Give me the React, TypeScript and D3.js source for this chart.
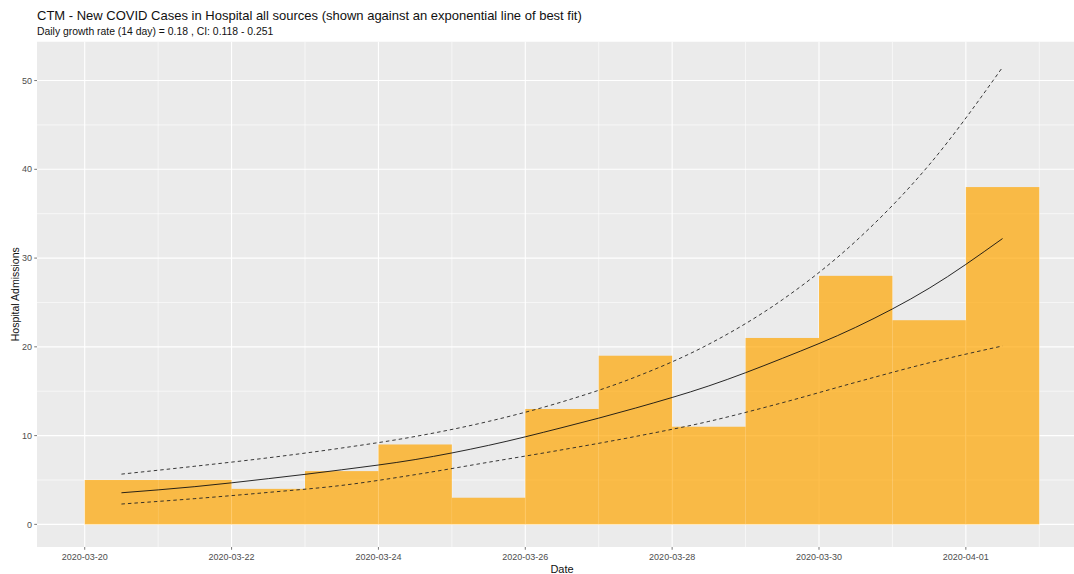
import React, { useEffect } from "react";
import * as d3 from "d3";

// Daily new hospital admissions (all sources)
const dates = [
  "2020-03-20", "2020-03-21", "2020-03-22", "2020-03-23", "2020-03-24",
  "2020-03-25", "2020-03-26", "2020-03-27", "2020-03-28", "2020-03-29",
  "2020-03-30", "2020-03-31", "2020-04-01",
];
const admissions = [5, 5, 4, 6, 9, 3, 13, 19, 11, 21, 28, 23, 38];

// Exponential fit and its confidence band, evaluated at the middle of each day
const fitCentral = [3.56, 4.25, 5.15, 6.15, 7.3, 8.9, 10.9, 13.1, 15.6, 18.7, 22.2, 26.6, 32.2];
const fitUpper = [5.66, 6.55, 7.5, 8.6, 9.9, 11.6, 13.8, 16.6, 20.3, 25.3, 31.9, 40.5, 51.5];
const fitLower = [2.29, 2.9, 3.6, 4.39, 5.6, 7.0, 8.4, 9.9, 11.6, 13.7, 16.0, 18.2, 20.1];

const xTickLabels = ["2020-03-20", "2020-03-22", "2020-03-24", "2020-03-26", "2020-03-28", "2020-03-30", "2020-04-01"];
const yTicks = [0, 10, 20, 30, 40, 50];
const yMinor = [5, 15, 25, 35, 45];

const title = "CTM - New COVID Cases in Hospital all sources (shown against an exponential line of best fit)";
const subtitle = "Daily growth rate (14 day) = 0.18 , CI: 0.118 - 0.251";

const W = 1074;
const H = 574;
const FONT = "'Liberation Sans', Arial, Helvetica, sans-serif";
const DAY = 86400000;

export default function App() {
  useEffect(() => {
    document.body.style.margin = "0";
  }, []);

  const parse = d3.utcParse("%Y-%m-%d");
  const days = dates.map((d) => parse(d) as Date);
  const first = days[0].getTime();
  const last = days[days.length - 1].getTime() + DAY;
  const pad = (last - first) * 0.05;

  const panel = { left: 37, right: 1087, top: 41.5, bottom: 547 };

  const x = d3
    .scaleUtc()
    .domain([new Date(first - pad), new Date(last + pad)])
    .range([panel.left, panel.right]);
  const y = d3.scaleLinear().domain([-2.55, 54.4]).range([panel.bottom, panel.top]);

  // major grid every 2 days, minor grid on the days between
  const allGridDays: Date[] = [];
  for (let t = first - DAY * 2; t <= last + DAY * 2; t += DAY) {
    const xv = x(new Date(t));
    if (xv >= panel.left && xv <= W) allGridDays.push(new Date(t));
  }
  const majorDays = xTickLabels.map((s) => parse(s) as Date);
  const majorSet = new Set(majorDays.map((d) => d.getTime()));
  const minorDays = allGridDays.filter((d) => !majorSet.has(d.getTime()));

  const mid = (i: number) => new Date(days[i].getTime() + DAY / 2);
  const lineGen = d3
    .line<number>()
    .x((_, i) => x(mid(i)))
    .y((v) => y(v))
    .curve(d3.curveMonotoneX);

  const fmt = d3.utcFormat("%Y-%m-%d");

  return (
    <svg
      width={W}
      height={H}
      style={{ position: "absolute", left: 0, top: 0, background: "#fff" }}
      fontFamily={FONT}
    >
      <defs>
        <clipPath id="panel-clip">
          <rect x={panel.left} y={panel.top} width={panel.right - panel.left} height={panel.bottom - panel.top} />
        </clipPath>
      </defs>

      <text x={panel.left} y={19.5} fontSize={13} fill="#111">
        {title}
      </text>
      <text x={panel.left} y={34.5} fontSize={10.4} fill="#111">
        {subtitle}
      </text>

      <g clipPath="url(#panel-clip)">
        <rect x={panel.left} y={panel.top} width={panel.right - panel.left} height={panel.bottom - panel.top} fill="#EBEBEB" />
        {yMinor.map((v) => (
          <line key={"ym" + v} x1={panel.left} x2={panel.right} y1={y(v)} y2={y(v)} stroke="#fff" strokeWidth={0.6} />
        ))}
        {minorDays.map((d) => (
          <line key={"xm" + d.getTime()} x1={x(d)} x2={x(d)} y1={panel.top} y2={panel.bottom} stroke="#fff" strokeWidth={0.6} />
        ))}
        {yTicks.map((v) => (
          <line key={"yM" + v} x1={panel.left} x2={panel.right} y1={y(v)} y2={y(v)} stroke="#fff" strokeWidth={1.1} />
        ))}
        {majorDays.map((d) => (
          <line key={"xM" + d.getTime()} x1={x(d)} x2={x(d)} y1={panel.top} y2={panel.bottom} stroke="#fff" strokeWidth={1.1} />
        ))}

        {admissions.map((v, i) => (
          <rect
            key={"b" + i}
            x={x(days[i])}
            width={x(new Date(days[i].getTime() + DAY)) - x(days[i])}
            y={y(v)}
            height={y(0) - y(v)}
            fill="#FFA500"
            fillOpacity={0.7}
          />
        ))}

        <path d={lineGen(fitUpper) || ""} fill="none" stroke="#222" strokeWidth={0.9} strokeDasharray="3.5,3" />
        <path d={lineGen(fitLower) || ""} fill="none" stroke="#222" strokeWidth={0.9} strokeDasharray="3.5,3" />
        <path d={lineGen(fitCentral) || ""} fill="none" stroke="#111" strokeWidth={0.9} />
      </g>

      {/* y axis */}
      {yTicks.map((v) => (
        <g key={"yt" + v}>
          <line x1={panel.left - 2.75} x2={panel.left} y1={y(v)} y2={y(v)} stroke="#555" strokeWidth={0.8} />
          <text x={panel.left - 5} y={y(v)} dy="0.35em" textAnchor="end" fontSize={9} fill="#4D4D4D">
            {v}
          </text>
        </g>
      ))}

      {/* x axis */}
      {majorDays.map((d) => (
        <g key={"xt" + d.getTime()}>
          <line x1={x(d)} x2={x(d)} y1={panel.bottom} y2={panel.bottom + 2.75} stroke="#555" strokeWidth={0.8} />
          <text x={x(d)} y={559.5} textAnchor="middle" fontSize={9} fill="#4D4D4D">
            {fmt(d)}
          </text>
        </g>
      ))}

      <text x={(panel.left + panel.right) / 2} y={572.5} textAnchor="middle" fontSize={11} fill="#111">
        Date
      </text>
      <text
        transform={`translate(18.5, ${(panel.top + panel.bottom) / 2}) rotate(-90)`}
        textAnchor="middle"
        fontSize={10.5}
        fill="#111"
      >
        Hospital Admissions
      </text>
    </svg>
  );
}
